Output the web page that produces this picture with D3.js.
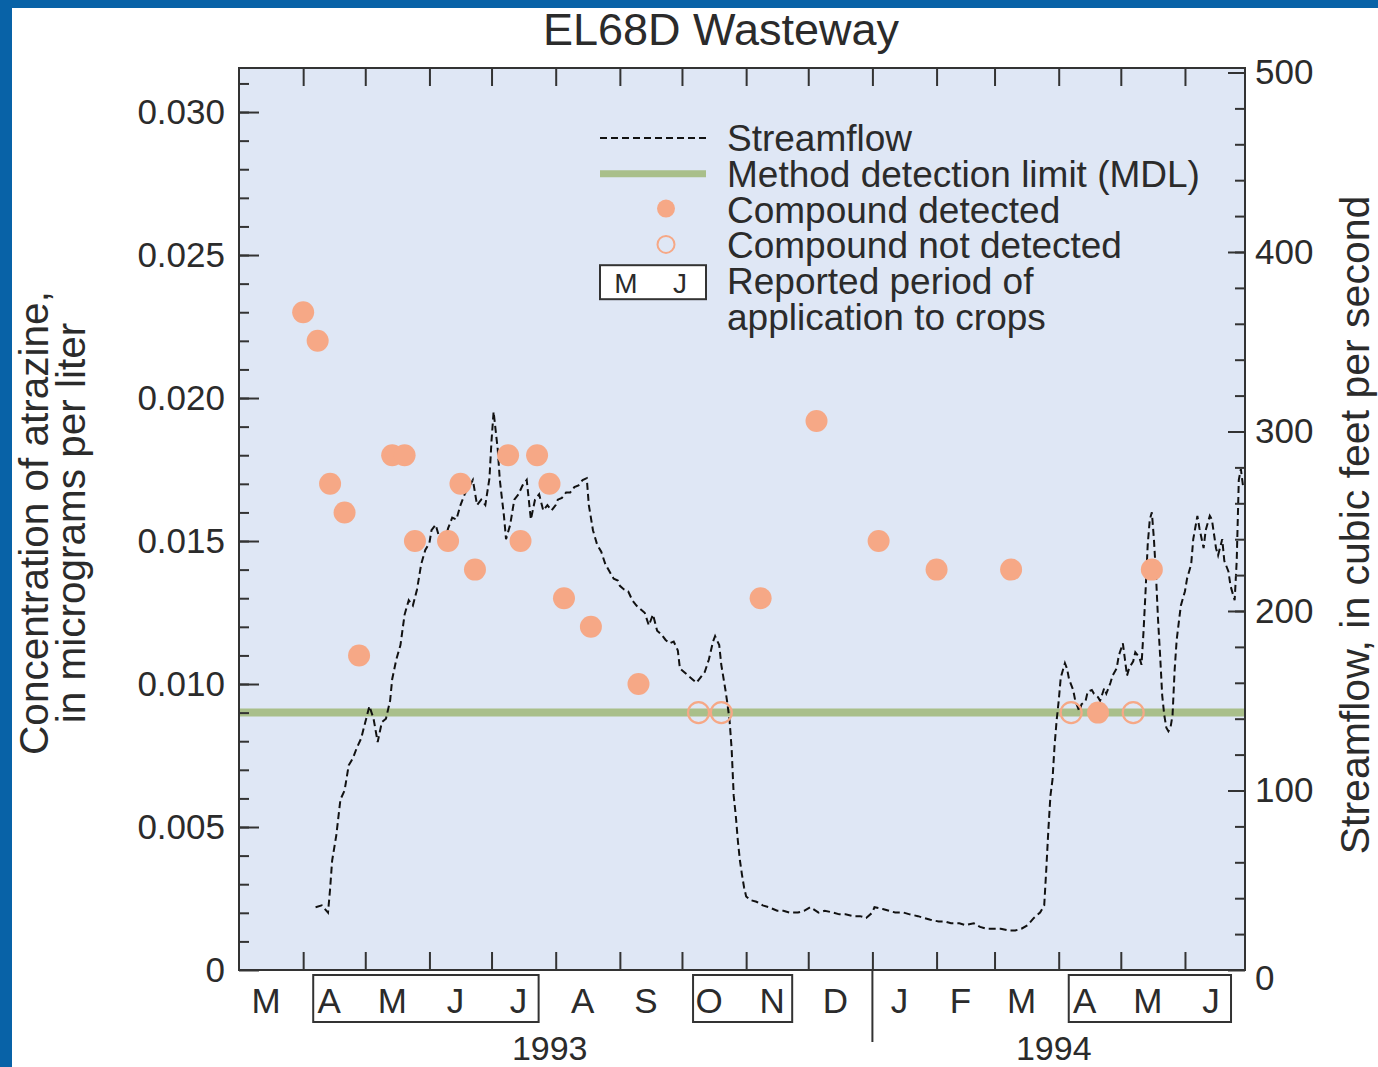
<!DOCTYPE html>
<html>
<head>
<meta charset="utf-8">
<script src="https://cdn.jsdelivr.net/npm/d3@7"></script>
<style>
  html, body { margin: 0; padding: 0; background: #ffffff; }
  svg { display: block; }
  text { font-family: "Liberation Sans", Arial, Helvetica, sans-serif; fill: #2b2b2b; }
</style>
</head>
<body>
<svg id="chart" width="1378" height="1067"></svg>
<script>
// Atrazine samples at the EL68D Wasteway (micrograms per liter)
const detectedDates = ["1993-04-01","1993-04-08","1993-04-14","1993-04-21","1993-04-28",
  "1993-05-14","1993-05-20","1993-05-25","1993-06-10","1993-06-16","1993-06-23",
  "1993-07-09","1993-07-15","1993-07-23","1993-07-29","1993-08-05","1993-08-18",
  "1993-09-10","1993-11-08","1993-12-05","1994-01-04","1994-02-01","1994-03-09",
  "1994-04-20","1994-05-16"];
const detectedValues = [0.023,0.022,0.017,0.016,0.011,
  0.018,0.018,0.015,0.015,0.017,0.014,
  0.018,0.015,0.018,0.017,0.013,0.012,
  0.010,0.013,0.0192,0.015,0.014,0.014,
  0.009,0.014];
const notDetectedDates = ["1993-10-09","1993-10-20","1994-04-07","1994-05-07"];
const notDetectedValues = [0.009,0.009,0.009,0.009];
const mdl = 0.009;

// Daily streamflow, cubic feet per second
const flowDates = ["1993-04-07","1993-04-10","1993-04-13","1993-04-14","1993-04-15","1993-04-17","1993-04-19","1993-04-21","1993-04-23","1993-04-25","1993-04-27","1993-04-29",
  "1993-05-01","1993-05-03","1993-05-05","1993-05-07","1993-05-09","1993-05-11","1993-05-13","1993-05-14","1993-05-16","1993-05-18","1993-05-20","1993-05-22","1993-05-24","1993-05-26","1993-05-28","1993-05-30",
  "1993-06-01","1993-06-02","1993-06-04","1993-06-06","1993-06-08","1993-06-10","1993-06-12","1993-06-14","1993-06-16","1993-06-18","1993-06-20","1993-06-22","1993-06-24","1993-06-26","1993-06-28","1993-06-30",
  "1993-07-01","1993-07-02","1993-07-04","1993-07-05","1993-07-07","1993-07-08","1993-07-10","1993-07-12","1993-07-14","1993-07-16","1993-07-18","1993-07-20","1993-07-22","1993-07-24","1993-07-26","1993-07-28","1993-07-30",
  "1993-08-01","1993-08-02","1993-08-04","1993-08-06","1993-08-08","1993-08-10","1993-08-12","1993-08-14","1993-08-16","1993-08-17","1993-08-19","1993-08-21","1993-08-23","1993-08-25","1993-08-27","1993-08-29","1993-08-31",
  "1993-09-01","1993-09-03","1993-09-05","1993-09-07","1993-09-09","1993-09-11","1993-09-13","1993-09-15","1993-09-17","1993-09-19","1993-09-21","1993-09-23","1993-09-25","1993-09-27","1993-09-29","1993-09-30",
  "1993-10-02","1993-10-04","1993-10-06","1993-10-08","1993-10-10","1993-10-12","1993-10-14","1993-10-16","1993-10-17","1993-10-19","1993-10-20","1993-10-22","1993-10-23","1993-10-24","1993-10-25","1993-10-26","1993-10-27","1993-10-28","1993-10-29","1993-10-30","1993-10-31",
  "1993-11-01","1993-11-03","1993-11-06","1993-11-09","1993-11-12","1993-11-16","1993-11-19","1993-11-22","1993-11-26","1993-11-29",
  "1993-12-02","1993-12-06","1993-12-09","1993-12-13","1993-12-16","1993-12-19","1993-12-23","1993-12-26","1993-12-29",
  "1994-01-01","1994-01-02","1994-01-06","1994-01-09","1994-01-12","1994-01-16","1994-01-19","1994-01-23","1994-01-26","1994-01-29",
  "1994-02-02","1994-02-05","1994-02-08","1994-02-12","1994-02-15","1994-02-19","1994-02-22","1994-02-25",
  "1994-03-01","1994-03-04","1994-03-08","1994-03-11","1994-03-14","1994-03-17","1994-03-20","1994-03-23","1994-03-25","1994-03-26","1994-03-27","1994-03-28","1994-03-29","1994-03-30","1994-03-31",
  "1994-04-01","1994-04-02","1994-04-04","1994-04-05","1994-04-06","1994-04-08","1994-04-09","1994-04-11","1994-04-12","1994-04-14","1994-04-15","1994-04-17","1994-04-18","1994-04-20","1994-04-21","1994-04-23","1994-04-24","1994-04-26","1994-04-27","1994-04-29","1994-04-30",
  "1994-05-02","1994-05-03","1994-05-04","1994-05-05","1994-05-07","1994-05-08","1994-05-10","1994-05-11","1994-05-12","1994-05-13","1994-05-14","1994-05-15","1994-05-16","1994-05-17","1994-05-18","1994-05-19","1994-05-20","1994-05-21","1994-05-22","1994-05-23","1994-05-24","1994-05-25","1994-05-26","1994-05-27","1994-05-28","1994-05-30","1994-05-31",
  "1994-06-01","1994-06-02","1994-06-04","1994-06-05","1994-06-07","1994-06-08","1994-06-10","1994-06-11","1994-06-13","1994-06-14","1994-06-16","1994-06-17","1994-06-19","1994-06-20","1994-06-22","1994-06-23","1994-06-25","1994-06-26","1994-06-27","1994-06-28","1994-06-29"];
const flowValues = [35,36,32,45,61,75,95,100,114,118,124,129,
  138,147,140,127,138,140,150,162,173,181,198,206,203,212,226,234,
  238,245,248,240,237,246,252,251,259,265,269,273,259,262,259,274,
  295,311,290,273,253,240,248,262,265,270,273,251,262,265,256,259,256,
  259,262,263,266,266,269,270,273,274,259,245,237,233,226,222,218,217,
  214,212,211,206,203,201,199,192,198,189,187,184,182,183,178,168,
  166,164,162,160,163,166,173,183,186,181,170,156,148,139,123,97,86,72,61,53,46,
  41,39,38,36,35,33,33,32,32,33,
  35,32,33,32,31,31,30,30,29,
  32,35,34,33,32,32,31,30,29,28,
  27,27,26,26,25,26,24,23,
  23,23,22,22,23,25,29,32,36,56,78,97,106,125,139,
  150,163,171,168,162,156,150,144,148,150,155,156,154,152,150,157,154,160,164,168,175,
  182,173,164,168,172,177,174,170,189,212,237,251,255,240,220,195,175,153,142,135,133,135,142,167,184,203,207,
  211,218,226,240,253,246,235,245,253,251,235,231,240,228,222,214,206,228,273,279,270];

// Reported application periods (first and last month of each)
const applicationPeriods = [["1993-04","1993-07"],["1993-10","1993-11"],["1994-04","1994-06"]];
const monthLetters = ["J","F","M","A","M","J","J","A","S","O","N","D"];
const concTicks = [0,0.005,0.010,0.015,0.020,0.025,0.030];
const flowTicks = [0,100,200,300,400,500];
const legendLabels = ["Streamflow","Method detection limit (MDL)","Compound detected",
  "Compound not detected","Reported period of","application to crops"];

const parseDay = d3.timeParse("%Y-%m-%d");
const parseMonth = d3.timeParse("%Y-%m");

const svg = d3.select("#chart");
const W = 1378, H = 1067;
const plot = {left: 239, right: 1245, top: 68, bottom: 970};

const dotColor = "#f6a886";
const mdlColor = "#a9bf8a";
const inkColor = "#333333";

// Slide frame
svg.append("rect").attr("x", 0).attr("y", 0).attr("width", W).attr("height", H).attr("fill", "#ffffff");
svg.append("rect").attr("x", 0).attr("y", 0).attr("width", W).attr("height", 8).attr("fill", "#0862a7");
svg.append("rect").attr("x", 0).attr("y", 0).attr("width", 12).attr("height", H).attr("fill", "#0862a7");

// Scales
const x = d3.scaleTime()
  .domain([new Date(1993, 2, 1), new Date(1994, 5, 30)])
  .range([plot.left, plot.right]);
const yConc = d3.scaleLinear().domain([0, 0.03154]).range([plot.bottom, plot.top]);
const yFlow = d3.scaleLinear().domain([0, 502.5]).range([plot.bottom, plot.top]);

// Plot background
svg.append("rect")
  .attr("x", plot.left).attr("y", plot.top)
  .attr("width", plot.right - plot.left).attr("height", plot.bottom - plot.top)
  .attr("fill", "#dfe7f5");

// Title
svg.append("text")
  .attr("x", 721).attr("y", 45)
  .attr("text-anchor", "middle")
  .style("font-size", "45px")
  .text("EL68D Wasteway");

// Method detection limit
svg.append("line")
  .attr("x1", plot.left).attr("x2", plot.right)
  .attr("y1", yConc(mdl)).attr("y2", yConc(mdl))
  .attr("stroke", mdlColor).attr("stroke-width", 8);

// Streamflow
const flow = flowDates.map((d, i) => ({date: parseDay(d), value: flowValues[i]}));
svg.append("path")
  .datum(flow)
  .attr("fill", "none")
  .attr("stroke", "#111111")
  .attr("stroke-width", 2)
  .attr("stroke-dasharray", "7,4")
  .attr("d", d3.line().x(d => x(d.date)).y(d => yFlow(d.value)));

// Samples
const detected = detectedDates.map((d, i) => ({date: parseDay(d), value: detectedValues[i]}));
const notDetected = notDetectedDates.map((d, i) => ({date: parseDay(d), value: notDetectedValues[i]}));

svg.append("g").selectAll("circle")
  .data(notDetected)
  .join("circle")
  .attr("cx", d => x(d.date)).attr("cy", d => yConc(d.value))
  .attr("r", 10.5)
  .attr("fill", "none")
  .attr("stroke", dotColor)
  .attr("stroke-width", 2.2);

svg.append("g").selectAll("circle")
  .data(detected)
  .join("circle")
  .attr("cx", d => x(d.date)).attr("cy", d => yConc(d.value))
  .attr("r", 11)
  .attr("fill", dotColor);

// Axes
function styleAxis(g) {
  g.select(".domain").remove();
  g.selectAll(".tick line").attr("stroke", inkColor).attr("stroke-width", 2);
  g.selectAll(".tick text").attr("fill", "#2b2b2b").style("font-family", "\"Liberation Sans\", Arial, sans-serif");
}

// left concentration axis, ticks point inward
svg.append("g")
  .attr("transform", `translate(${plot.left},0)`)
  .call(d3.axisLeft(yConc).tickValues(d3.range(1, 32).map(v => v / 1000)).tickSize(-10).tickFormat(""))
  .call(styleAxis);
svg.append("g")
  .attr("transform", `translate(${plot.left},0)`)
  .call(d3.axisLeft(yConc).tickValues(concTicks).tickSize(-20).tickPadding(14)
    .tickFormat(d => d === 0 ? "0" : d3.format(".3f")(d)))
  .call(styleAxis)
  .call(g => g.selectAll(".tick text").style("font-size", "35px"));

// right streamflow axis
svg.append("g")
  .attr("transform", `translate(${plot.right},0)`)
  .call(d3.axisRight(yFlow).tickValues(d3.range(20, 501, 20)).tickSize(-10).tickFormat(""))
  .call(styleAxis);
svg.append("g")
  .attr("transform", `translate(${plot.right},0)`)
  .call(d3.axisRight(yFlow).tickValues(flowTicks).tickSize(-17).tickPadding(10))
  .call(styleAxis)
  .call(g => g.selectAll(".tick text").style("font-size", "35px"))
  .call(g => g.selectAll(".tick").filter(d => d === 0).select("text").attr("dy", "0.55em"));

// month ticks on bottom and top
const months = d3.timeMonth.range(new Date(1993, 3, 1), new Date(1994, 5, 2));
svg.append("g")
  .attr("transform", `translate(0,${plot.bottom})`)
  .call(d3.axisBottom(x).tickValues(months).tickSize(-18).tickFormat(""))
  .call(styleAxis);
svg.append("g")
  .attr("transform", `translate(0,${plot.top})`)
  .call(d3.axisTop(x).tickValues(months).tickSize(-18).tickFormat(""))
  .call(styleAxis);

// Plot frame
svg.append("rect")
  .attr("x", plot.left).attr("y", plot.top)
  .attr("width", plot.right - plot.left).attr("height", plot.bottom - plot.top)
  .attr("fill", "none").attr("stroke", inkColor).attr("stroke-width", 2);

// Month letters under the axis
const allMonths = d3.timeMonth.range(new Date(1993, 2, 1), new Date(1994, 6, 1));
const monthCenter = m => (x(m) + x(d3.timeMonth.offset(m, 1))) / 2 - 5;
svg.append("g").selectAll("text")
  .data(allMonths)
  .join("text")
  .attr("x", d => monthCenter(d))
  .attr("y", 1013)
  .attr("text-anchor", "middle")
  .style("font-size", "35px")
  .text(d => monthLetters[d.getMonth()]);

// Application-period boxes around the month letters
svg.append("g").selectAll("rect")
  .data(applicationPeriods)
  .join("rect")
  .attr("x", d => monthCenter(parseMonth(d[0])) - 16)
  .attr("y", 975)
  .attr("width", d => monthCenter(parseMonth(d[1])) - monthCenter(parseMonth(d[0])) + 36)
  .attr("height", 47)
  .attr("fill", "none")
  .attr("stroke", inkColor)
  .attr("stroke-width", 2);

// Year separator and year labels
const newYear = new Date(1994, 0, 1);
svg.append("line")
  .attr("x1", x(newYear)).attr("x2", x(newYear))
  .attr("y1", plot.bottom).attr("y2", 1042)
  .attr("stroke", inkColor).attr("stroke-width", 2);
svg.append("text")
  .attr("x", (x(new Date(1993, 2, 1)) + x(newYear)) / 2 - 6).attr("y", 1060)
  .attr("text-anchor", "middle").style("font-size", "34px").text("1993");
svg.append("text")
  .attr("x", (x(newYear) + x(new Date(1994, 6, 1))) / 2 - 6).attr("y", 1060)
  .attr("text-anchor", "middle").style("font-size", "34px").text("1994");

// Axis titles
svg.append("text")
  .attr("transform", "translate(48,523) rotate(-90)")
  .attr("text-anchor", "middle")
  .style("font-size", "40.5px")
  .text("Concentration of atrazine,");
svg.append("text")
  .attr("transform", "translate(85,523) rotate(-90)")
  .attr("text-anchor", "middle")
  .style("font-size", "40.5px")
  .text("in micrograms per liter");
svg.append("text")
  .attr("transform", "translate(1369,525) rotate(-90)")
  .attr("text-anchor", "middle")
  .style("font-size", "41px")
  .text("Streamflow, in cubic feet per second");

// Legend
const legend = svg.append("g");
const lgX0 = 600, lgX1 = 706, lgTextX = 727, lgRow = 35.8, lgTop = 138;
legend.selectAll("text.lg")
  .data(legendLabels)
  .join("text")
  .attr("class", "lg")
  .attr("x", lgTextX)
  .attr("y", (d, i) => lgTop + i * lgRow + 13)
  .style("font-size", "37px")
  .text(d => d);
legend.append("line")
  .attr("x1", lgX0).attr("x2", lgX1).attr("y1", lgTop).attr("y2", lgTop)
  .attr("stroke", "#111111").attr("stroke-width", 2).attr("stroke-dasharray", "7,4");
legend.append("line")
  .attr("x1", lgX0).attr("x2", lgX1).attr("y1", lgTop + lgRow).attr("y2", lgTop + lgRow)
  .attr("stroke", mdlColor).attr("stroke-width", 7);
legend.append("circle")
  .attr("cx", 666).attr("cy", lgTop + 2 * lgRow - 1).attr("r", 9)
  .attr("fill", dotColor);
legend.append("circle")
  .attr("cx", 666).attr("cy", lgTop + 3 * lgRow - 1).attr("r", 8.5)
  .attr("fill", "none").attr("stroke", dotColor).attr("stroke-width", 2);
legend.append("rect")
  .attr("x", lgX0).attr("y", lgTop + 4 * lgRow - 16)
  .attr("width", lgX1 - lgX0).attr("height", 34)
  .attr("fill", "#ffffff").attr("stroke", inkColor).attr("stroke-width", 2);
legend.append("text")
  .attr("x", 626).attr("y", lgTop + 4 * lgRow + 12)
  .attr("text-anchor", "middle").style("font-size", "28px").text("M");
legend.append("text")
  .attr("x", 680).attr("y", lgTop + 4 * lgRow + 12)
  .attr("text-anchor", "middle").style("font-size", "28px").text("J");
</script>
</body>
</html>
